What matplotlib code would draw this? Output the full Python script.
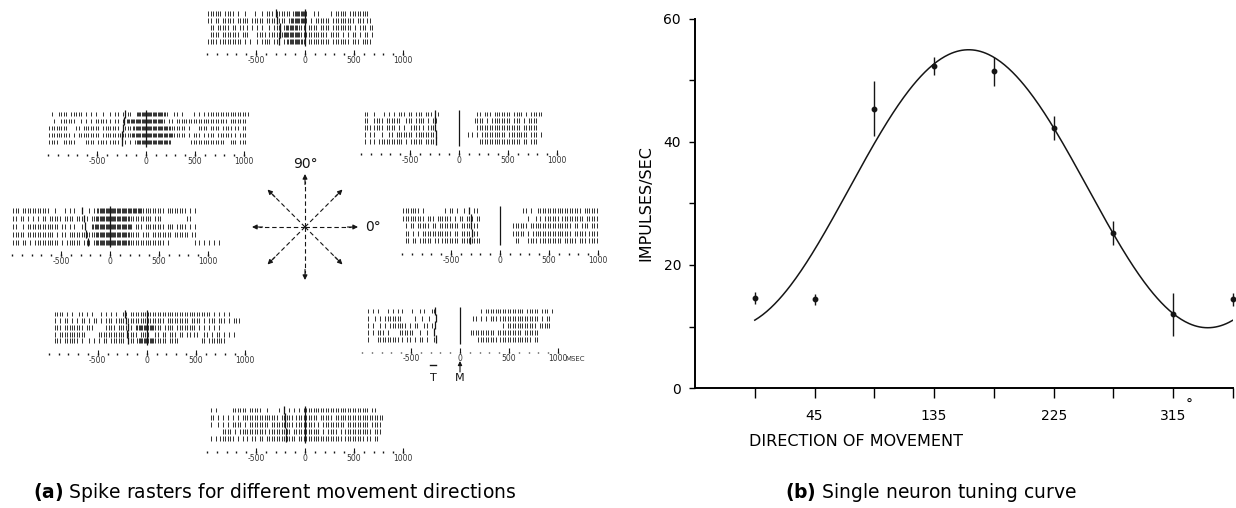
import numpy as np
import matplotlib.pyplot as plt

W, H = 1236, 508
INK = "#151515"

# ---------------- tuning curve data ----------------
directions = [0, 45, 90, 135, 180, 225, 270, 315, 360]
mean_rate = [14.6, 14.4, 45.4, 52.4, 51.5, 42.3, 25.2, 12.0, 14.4]
rate_sem = [1.0, 0.9, 4.5, 1.5, 2.4, 1.9, 1.9, 3.5, 1.0]

# cosine fit  b0 + b1*cos(theta - pd)
fit_b0 = 32.4
fit_b1 = 22.6
fit_pd = 161

x_ticklabels = ["", "45", "", "135", "", "225", "", "315", ""]
y_ticklabels = ["0", "", "20", "", "40", "", "60"]

# ---------------- spike rasters ----------------
# one string per trial, 25 ms bins starting at -1000 ms (movement onset = 0)
# '|' = one spike in the bin, ':' = two spikes
BIN_MS = 25
RASTER_START = -1000
raster_ticks = [-500, 0, 500, 1000]

trials_90 = [
    "|||||| |||" "| |  |   |" "  | ||| ||" "|||| :::::" "|  | |    " "| ||||| ||" "||||||",
    "|| || ||||" "| ||||| ||" "||| ||||||" "|| |::::::" "| | ||||||" " |||||||||" " ||| ||",
    " || ||||| " "|| || | | " "| |  | |||" " |:::::|||" " |||| ||||" " |||||||| " "| ||| ||",
    " |||| ||||" "||| |||   " "|||| |||||" "|:::::::||" "||||||||| " "|||| | | |" "| | || |",
    "|||| |||||" "|||| | |  " "| |||| |||" " ||::::::|" " |||||||||" " ||||||| |" "|| ||||",
]
targets_90 = [-300, -285, -260, -255, -270]

trials_135 = [
    " |  |||| |" "|||| | | |" "  |  | || " "||||  ::::" "::::::::| " " || |    |" " | | |||||" "||||||||||" "||",
    "  |  |||||" "|  | | | |" "|||| | || " "| ::::::::" ":::::::| |" "| ||||||||" "||||||||||" "||| ||||||" "|",
    "||||||||  " " || ||||||" "| ||||||| " "|||||:::::" "::::::::::" "|||||| |  " " |||| ||||" " |||| || |" "|",
    "||||||||| " "| ||||||||" "| ||||||||" "||||::::::" "::::::::::" ":||||| | |" "|| | ||| |" "||||| | ||" "|",
    "||||  ||||" "|    |||| " "|||| |||| " " | | |::::" "::::::::::" "        ||" "||||||||||" "||  ||| ||" "|",
]
targets_135 = [-215, -225, -235, -240, -250]

trials_45 = [
    " ||  |   |" " | | ||| |" "| ||| ||| " " |        " "       || " "||| ||||||" "| |||| | |" "||||",
    " ||  |||| " "||||||  ||" "| |||| | |" "|         " "      ||||" " | |||||||" "| ||| | ||" "||",
    " ||| |||| " "|||| | |  " "|||| | |||" "          " "       |||" "||||||||||" "||||| ||||" "||",
    " | | |  | " " || ||||||" "| ||||||||" "|         " "   | | | |" "||||||||| " "|||||||| |" "|| |",
    " | | | |||" "||||||| | " "||||| ||||" "|         " "        ||" "||||||||||" "||||| || |" "||",
]
targets_45 = [-240, -240, -245, -235, -230]

trials_180 = [
    "||| ||||||" "|||||  |  " " | | |  | " " | ||:::::" "::::::::::" ":::|||||||" "|| |||||||" "| | |",
    "|| || | | " "| || |||||" " |||| ||||" "| ||::::::" "::::::::||" "||||||| ||" "|         " " ||",
    "||  | ||||" "||||||||| " "|| | |  | " "  |:::::::" "::::::::: " "||| ||||||" "|| ||| |||" "| | |",
    "||||| ||||" "||||||| | " "|| |||||||" "||||::::::" "::::::::||" "|| ||| |||" "||||| ||||" "|| ||",
    "||| || | |" "||||||||| " "| |||||| |" "|| |::::::" "::::::::||" "||||||||||" "|| |      " "    | | | " "| | |",
]
targets_180 = [-290, -270, -255, -240, -225]

trials_0 = [
    "||||||| | " "       | |" "| |  | | |" "|         " "         |" "| |  |||||" "||||||||||" "||| ||||||",
    "||||||||| " "||| ||||||" " | || ||| " "||        " "          " " |  | | ||" "|||| |||||" "|||| |||||",
    " | || ||||" "| || |||||" "||| |||| |" "|         " "     |||||" "| ||||||||" "||||||||| " "|| ||| |||",
    " || | | ||" "||||||||||" " || ||||||" "|         " "     |||||" " | |||||||" "||||||||| " "||||| ||||",
    " || || |||" "|| || ||||" "||| ||||||" "||        " "      ||  " " |||| ||||" "||||| ||||" "| ||| ||||",
]
targets_0 = [-320, -300, -300, -290, -310]

trials_225 = [
    "  |||| | |" "  || | |  " " | | | |  " "|| |||||||" "||||||||||" "||||||||||" "|||||| | |" " | |",
    "  | | || |" " | || | ||" " | ||| |||" "||||||||||" ":|||||| ||" "||||||| ||" "|| | ||| |" "|| | |||",
    "  ||| ||||" "|||| |||  " "   |||| ||" "|||| |::::" ":::||| |||" "| ||||||||" " | | | | |",
    "  | ||||||" "|||||     " "||||||||||" "| |||| |||" "|  || || |" "|| || || |" "|  || | ||" " | | |",
    "  ||| ||||" "|| |  | | " "| || |||||" "| ||| ::::" ":::||||| |" "|||       " "  || |||||" "||",
]
targets_225 = [-220, -215, -190, -200, -195]

trials_315 = [
    "  | | |   " "| | | |   " "|  | |  ||" "          " "        | " "||||||||||" "|||||| |||" "|| ||| |",
    "  |  | | |" "||||||    " " |  |  |  " "          " "     || | " "| ||| ||||" "||||||||||" "|| | ||",
    "  | |  | |" " ||||||| |" " ||  || | " "          " "          " "       | |" "||||||||||" "| |||||",
    "  | | ||| " "|    |||||" "|  |  |   " "          " "    ||||||" "|||| |||||" "||||| ||||" "||",
    "  |   ||||" "||||| | ||" " | || |  |" "          " "       |||" "||||| ||||" "||||||||| " "||",
]
targets_315 = [-260, -250, -255, -265, -250]

trials_270 = [
    " | |      " "|||||| |||" "||  |    |" "   | | | |" "||||||||||" "||||||||||" "|||||| || ",
    " || | | | " "| | ||||||" "||||||||| " "||||| ||||" "||||| ||||" "| ||||||||" "||||||||||" "||",
    " |  | | | " "|||| | |||" "||||| ||||" "||||| ||||" "|||| | |||" "|||||| |||" "|||||| |||" "|",
    "      ||||" " | |||||||" "|||| |||||" "|||| |||||" "|||||| | |" "||| | ||||" "||||||| ||" "|",
    " | | |||||" "| | | | ||" " || ||||||" "|||||| |||" "||||||||||" "||||| ||||" "|||| || ||",
]
targets_270 = [-215, -205, -200, -195, -190]

rasters = {
    0: (trials_0, targets_0), 45: (trials_45, targets_45),
    90: (trials_90, targets_90), 135: (trials_135, targets_135),
    180: (trials_180, targets_180), 225: (trials_225, targets_225),
    270: (trials_270, targets_270), 315: (trials_315, targets_315),
}

# where each raster sits: x of movement onset, y of first trial, row spacing (px)
raster_layout = {
    90: (305, 13.3, 7.0), 135: (146, 114, 7.0), 45: (459, 114, 6.8),
    180: (110, 210.7, 7.9), 0: (500, 210.7, 7.5),
    225: (146.7, 314, 6.7), 315: (460, 311, 7.1), 270: (305, 410, 7.2),
}
PX_PER_MS = 0.098

arrow_angles = [0, 45, 90, 135, 180, 225, 270, 315]
arrow_len = 53


def px_axes(fig, left, top, width, height):
    return fig.add_axes([left / W, 1 - (top + height) / H, width / W, height / H])


def spike_times(row):
    times = []
    for b, ch in enumerate(row):
        t0 = RASTER_START + b * BIN_MS
        if ch == "|":
            times.append(t0 + 12.5)
        elif ch == ":":
            times += [t0 + 6, t0 + 18]
    return times


def draw_raster(ax, trials, targets, spacing):
    for i, (row, t_on) in enumerate(zip(trials, targets)):
        y = i * spacing
        ax.vlines(spike_times(row), y - 2.4, y + 2.4, color="#222222", lw=0.65)
        ax.vlines(t_on, y - 4.0, y + 3.6, color=INK, lw=0.9)
    # movement onset
    ax.vlines(0, -4.5, 4 * spacing + 4.5, color=INK, lw=0.9)
    base = 4 * spacing + 13
    ax.vlines(np.arange(-1000, 1001, 100), base - 0.9, base + 0.9, color=INK, lw=1.0)
    ax.vlines(raster_ticks, base - 4, base + 0.9, color=INK, lw=0.8)
    for t in raster_ticks:
        ax.text(t, base + 6.5, str(t), ha="center", va="center",
                fontsize=5.5, color="#333333")
    return base


fig = plt.figure(figsize=(W / 100, H / 100), dpi=100)

for d, (trials, targets) in rasters.items():
    x0, ytop, spacing = raster_layout[d]
    ax = px_axes(fig, x0 - 1100 * PX_PER_MS, ytop - 8, 2250 * PX_PER_MS, 90)
    ax.set_xlim(-1100, 1150)
    ax.set_ylim(82, -8)
    ax.axis("off")
    base = draw_raster(ax, trials, targets, spacing)
    if d == 315:
        ax.text(1075, base + 6.5, "MSEC", ha="left", va="center", fontsize=5, color="#333333")
        ax.plot([-310, -240], [54, 54], color=INK, lw=1.0)
        ax.text(-276, 67, "T", ha="center", va="center", fontsize=8, color=INK)
        ax.text(0, 67, "M", ha="center", va="center", fontsize=8, color=INK)
        ax.annotate("", xy=(0, 50), xytext=(0, 61),
                    arrowprops=dict(arrowstyle="-|>", color=INK, lw=0.8,
                                    mutation_scale=6, shrinkA=0, shrinkB=0))

# direction arrows
ax_arr = px_axes(fig, 230, 152, 150, 150)
ax_arr.set_xlim(-75, 75)
ax_arr.set_ylim(-75, 75)
ax_arr.axis("off")
for a in arrow_angles:
    dx, dy = np.cos(np.radians(a)), np.sin(np.radians(a))
    ax_arr.plot([0, 0.86 * arrow_len * dx], [0, 0.86 * arrow_len * dy],
                color=INK, lw=0.8, ls=(0, (4, 2.5)))
    ax_arr.annotate("", xy=(arrow_len * dx, arrow_len * dy),
                    xytext=(0.8 * arrow_len * dx, 0.8 * arrow_len * dy),
                    arrowprops=dict(arrowstyle="-|>", color=INK, lw=0.8,
                                    mutation_scale=7, shrinkA=0, shrinkB=0))
ax_arr.text(60, 0, "0°", ha="left", va="center", fontsize=10, color=INK)
ax_arr.text(0, 63, "90°", ha="center", va="center", fontsize=10, color=INK)

# tuning curve
ax = px_axes(fig, 695, 19, 538, 369)
theta = np.linspace(0, 360, 361)
ax.plot(theta, fit_b0 + fit_b1 * np.cos(np.radians(theta - fit_pd)), color=INK, lw=1.1)
ax.errorbar(directions, mean_rate, yerr=rate_sem, fmt="o", ms=3.2, color=INK,
            elinewidth=1.0, capsize=0, clip_on=False)
ax.set_xlim(-45, 360)
ax.set_ylim(0, 60)
for s in ["top", "right"]:
    ax.spines[s].set_visible(False)
for s in ["left", "bottom"]:
    ax.spines[s].set_linewidth(1.4)
ax.set_xticks(directions)
ax.set_xticklabels(x_ticklabels)
ax.set_yticks(range(0, 61, 10))
ax.set_yticklabels(y_ticklabels)
ax.tick_params(axis="x", direction="out", length=7, width=1.0, pad=8, labelsize=10)
ax.tick_params(axis="y", direction="out", length=4, width=1.0, pad=6, labelsize=10)
ax.text(324.5, -0.045, "°", transform=ax.get_xaxis_transform(), ha="left",
        va="center", fontsize=10)
ax.text(-49 / 538, 0.5, "IMPULSES/SEC", transform=ax.transAxes, rotation=90,
        ha="center", va="center", fontsize=11.5)
ax.text(0.30, -54 / 369, "DIRECTION OF MOVEMENT", transform=ax.transAxes,
        ha="center", va="center", fontsize=11.5)

fig.text(275 / W, 1 - 493 / H, r"$\mathbf{(a)}$ Spike rasters for different movement directions",
         ha="center", va="center", fontsize=13.5)
fig.text(931 / W, 1 - 493 / H, r"$\mathbf{(b)}$ Single neuron tuning curve",
         ha="center", va="center", fontsize=13.5)

fig.savefig("out.png", dpi=100)
